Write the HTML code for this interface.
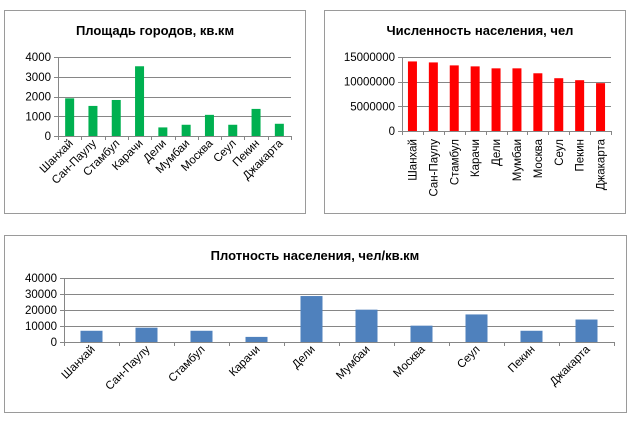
<!DOCTYPE html>
<html><head><meta charset="utf-8">
<style>
body{margin:0;background:#fff;}
svg{display:block;font-family:"Liberation Sans",sans-serif;}
</style></head>
<body>
<svg id="s" width="632" height="425" viewBox="0 0 632 425"></svg>
<script>
const categories=["Шанхай","Сан-Паулу","Стамбул","Карачи","Дели","Мумбаи","Москва","Сеул","Пекин","Джакарта"];
const areaValues=[1907,1523,1824,3531,435,569,1071,569,1372,619];
const popValues=[14100000,13900000,13300000,13100000,12700000,12700000,11700000,10700000,10300000,9700000];
const densityValues=[7020,8940,7020,3190,28720,20210,10210,17230,7020,14040];
const areaTicks=[0,1000,2000,3000,4000];
const popTicks=[0,5000000,10000000,15000000];
const densityTicks=[0,10000,20000,30000,40000];
const NS="http://www.w3.org/2000/svg";
const svg=document.getElementById('s');
function el(t,a,p){const e=document.createElementNS(NS,t);for(const k in a)e.setAttribute(k,a[k]);(p||svg).appendChild(e);return e;}
function chart(o){
  const g=el('g',{});
  
  
  const fr=el('rect',{x:o.box[0]+.5,y:o.box[1]+.5,width:o.box[2],height:o.box[3],fill:'#fff',stroke:'#9a9a9a'},g);
  
  
  const t=el('text',{x:o.tx,y:o.ty,'text-anchor':'middle','font-size':13,'font-weight':'bold',fill:'#000'},g);
  t.textContent=o.title;
  
  
  const max=o.ticks[o.ticks.length-1];
  const y=v=>o.y0-(v/max)*(o.y0-o.y1);
  const n=o.cats.length, cw=(o.x1-o.x0)/n;
  o.ticks.forEach(v=>{
    const l=el('line',{x1:o.x0-4,x2:o.x1,y1:Math.round(y(v))+.5,y2:Math.round(y(v))+.5,stroke:'#868686'},g);
    
    
    const tl=el('text',{x:o.x0-7,y:y(v)+4,'text-anchor':'end','font-size':11.5,fill:'#000'},g);
    tl.textContent=String(v);
    
    
  });
  const ax=el('line',{x1:o.x0+.5,x2:o.x0+.5,y1:o.y1,y2:o.y0,stroke:'#868686'},g);
  
  
  for(let i=0;i<=n;i++){
    const tk=el('line',{x1:Math.round(o.x0+i*cw)+.5,x2:Math.round(o.x0+i*cw)+.5,y1:o.y0,y2:o.y0+4,stroke:'#868686'},g);
    
    
  }
  o.vals.forEach((v,i)=>{
    const cx=o.x0+(i+.5)*cw;
    const b=el('rect',{x:cx-o.bw/2,y:y(v),width:o.bw,height:o.y0-y(v),fill:o.color},g);
    
    
    const lx=cx+4, ly=o.y0+8;
    const lb=el('text',{x:lx,y:ly,'text-anchor':'end','font-size':11.5,fill:'#000',transform:`rotate(${o.rot} ${lx} ${ly})`},g);
    lb.textContent=o.cats[i];
    
    
  });
}
chart({name:'area-chart',box:[4,10,301,203],title:'Площадь городов, кв.км',tx:155,ty:35,x0:58,x1:291,y0:136,y1:57,ticks:areaTicks,vals:areaValues,cats:categories,bw:9,color:'#00b050',rot:-45});
chart({name:'population-chart',box:[324,10,301,203],title:'Численность населения, чел',tx:480,ty:35,x0:402,x1:611,y0:131,y1:57,ticks:popTicks,vals:popValues,cats:categories,bw:9,color:'#ff0000',rot:-90});
chart({name:'density-chart',box:[4,235,622,177],title:'Плотность населения, чел/кв.км',tx:315,ty:260,x0:64,x1:614,y0:342,y1:278,ticks:densityTicks,vals:densityValues,cats:categories,bw:22,color:'#4f81bd',rot:-45});
</script>
</body></html>
